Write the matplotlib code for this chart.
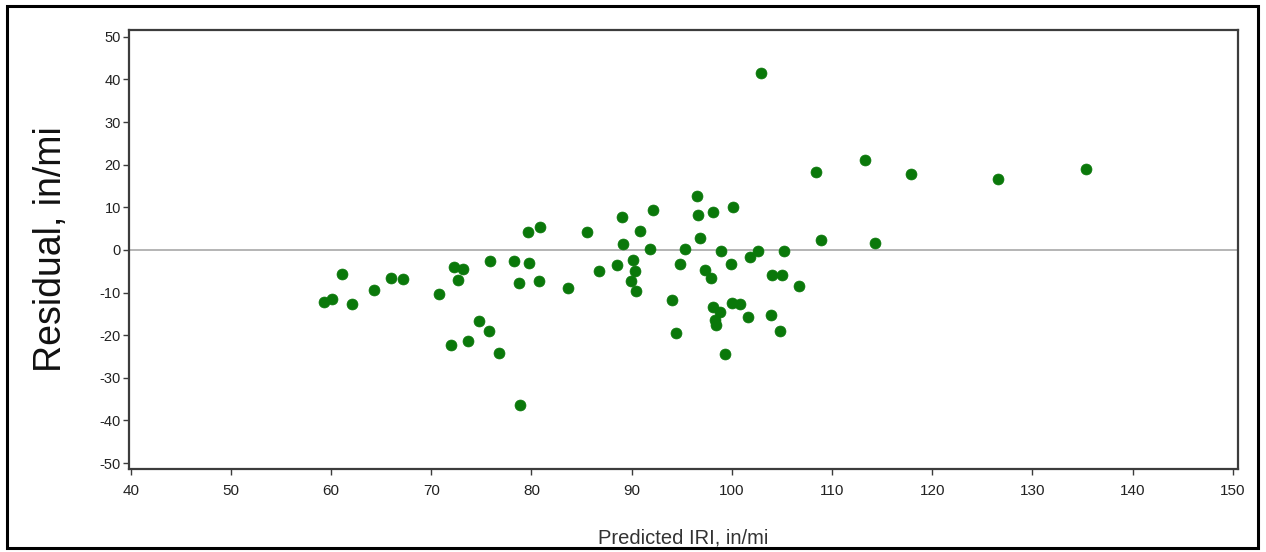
import matplotlib
matplotlib.use('Agg')
import matplotlib.pyplot as plt
from matplotlib.patches import Rectangle

plt.rcParams['axes.unicode_minus'] = False

# 读图估计的残差数据
predicted_iri = [
    59.3, 60.1, 61.1, 62.1, 64.3, 66.0, 67.2, 70.8, 72.3, 73.2,
    72.7, 75.9, 78.3, 79.8, 78.8, 80.8, 74.8, 75.8, 73.7, 72.0,
    76.8, 78.9, 79.7, 80.9, 85.5, 83.7, 86.7, 88.5, 89.0, 89.1,
    90.8, 92.1, 91.8, 90.1, 90.3, 89.9, 90.4, 94.0, 94.4, 94.8,
    95.3, 96.5, 96.6, 96.8, 97.3, 97.9, 98.1, 98.1, 98.8, 98.3,
    98.4, 98.9, 99.3, 99.9, 100.1, 100.0, 100.8, 101.6, 101.8, 102.6,
    102.9, 103.9, 104.0, 105.0, 104.8, 105.2, 106.7, 108.4, 108.9, 113.3,
    114.3, 117.9, 126.6, 135.4,
]
residual = [
    -12.3, -11.5, -5.6, -12.7, -9.4, -6.6, -6.8, -10.4, -3.9, -4.5,
    -7.0, -2.6, -2.6, -3.0, -7.8, -7.3, -16.6, -19.0, -21.3, -22.2,
    -24.3, -36.3, 4.3, 5.3, 4.3, -9.0, -4.9, -3.5, 7.8, 1.4,
    4.4, 9.3, 0.2, -2.3, -4.9, -7.2, -9.6, -11.8, -19.4, -3.2,
    0.2, 12.7, 8.2, 2.8, -4.7, -6.7, 9.0, -13.3, -14.5, -16.5,
    -17.6, -0.2, -24.4, -3.2, 10.0, -12.5, -12.7, -15.8, -1.6, -0.2,
    41.4, -15.2, -6.0, -6.0, -19.0, -0.2, -8.4, 18.2, 2.3, 21.1,
    1.6, 17.8, 16.6, 19.1,
]
x_ticks = list(range(40, 151, 10))
y_ticks = list(range(-50, 51, 10))

W, H = 1266, 552
fig = plt.figure(figsize=(W / 100, H / 100), dpi=100)
fig.patch.set_facecolor('white')

# 外框
fig.patches.append(Rectangle((7 / W, 4 / H), 1251 / W, 542 / H, transform=fig.transFigure,
                             fill=False, edgecolor='black', linewidth=2.2))

ax = fig.add_axes([129.3 / W, 1 - 469 / H, 1108.4 / W, 439 / H])
ax.axhline(0, color='#b4b4b4', linewidth=1.4, zorder=1)
ax.scatter(predicted_iri, residual, s=62, color='#0a780a', edgecolors='#0a780a',
           linewidths=0.5, zorder=3)

ax.set_xlim(39.86, 150.5)
ax.set_ylim(-51.4, 51.6)
ax.set_xticks(x_ticks)
ax.set_yticks(y_ticks)

for sp in ax.spines.values():
    sp.set_color('#3c3c3c')
    sp.set_linewidth(1.6)

ax.tick_params(axis='both', direction='out', length=4, width=1, color='#3c3c3c')
ax.tick_params(axis='y', labelsize=10.5, labelcolor='#222222', pad=2)
ax.tick_params(axis='x', labelsize=11, labelcolor='#222222', pad=7)
for lab in ax.get_xticklabels() + ax.get_yticklabels():
    lab.set_family(['Liberation Sans', 'DejaVu Sans'])

ax.set_xlabel('Predicted IRI, in/mi', fontsize=14.5, color='#333333', labelpad=22,
              family=['Liberation Sans', 'DejaVu Sans'])
ax.set_ylabel('Residual, in/mi', fontsize=27, color='#111111', labelpad=22,
              family=['Liberation Sans', 'DejaVu Sans'])

fig.savefig('out.png', dpi=100)
